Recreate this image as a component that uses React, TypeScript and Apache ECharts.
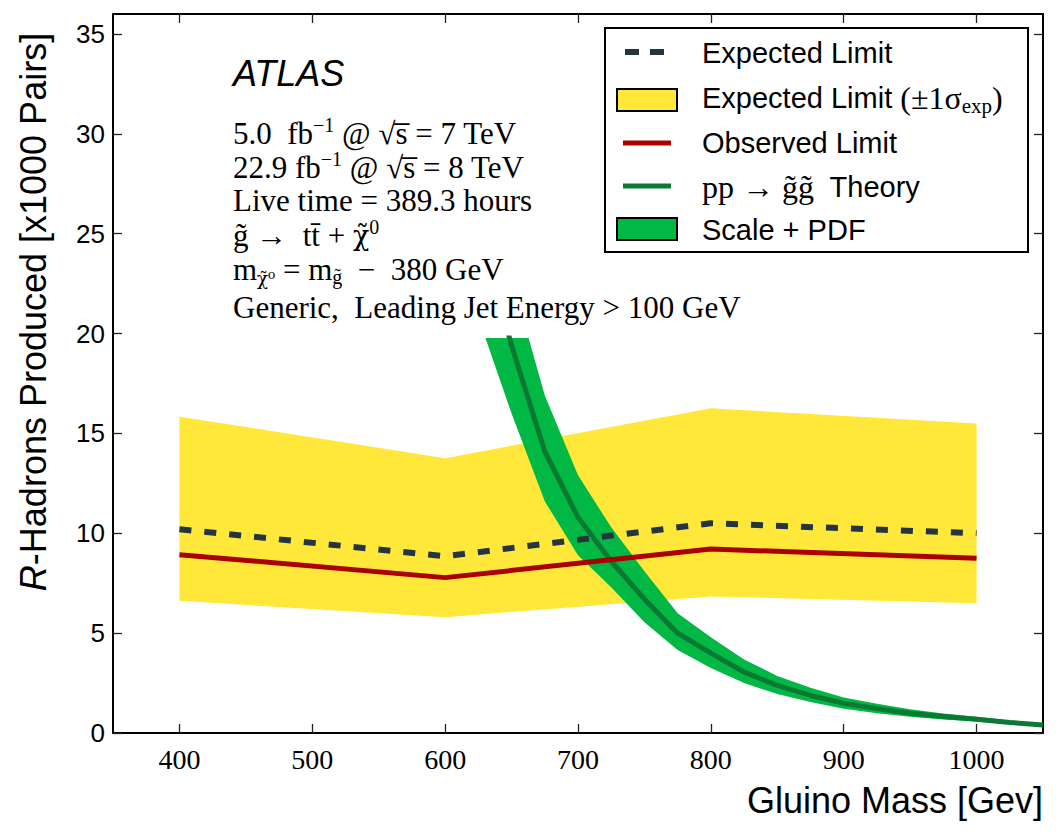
import React, { useEffect, useRef } from 'react';
import * as echarts from 'echarts';

// ---- data ----
const xTicks = [400, 500, 600, 700, 800, 900, 1000];
const yTicks = [0, 5, 10, 15, 20, 25, 30, 35];

const limitMass = [400, 600, 800, 1000];
const expectedLimit = [10.2, 8.85, 10.5, 10.0];
const observedLimit = [8.93, 7.78, 9.21, 8.75];
const expectedUpper = [15.84, 13.76, 16.26, 15.5];
const expectedLower = [6.62, 5.8, 6.84, 6.5];

const theoryMass = [625, 650, 675, 700, 725, 750, 775, 800, 825, 850, 875, 900, 925, 950, 975, 1000, 1025, 1050];
const theoryCentral = [25.5, 19.4, 14.1, 10.8, 8.6, 6.7, 5.0, 4.0, 3.05, 2.38, 1.88, 1.49, 1.22, 0.99, 0.83, 0.69, 0.53, 0.4];
const theoryUpper = [30.5, 22.8, 16.9, 12.9, 10.3, 8.1, 6.0, 4.8, 3.68, 2.86, 2.26, 1.78, 1.46, 1.19, 0.98, 0.81, 0.63, 0.48];
const theoryLower = [20.8, 16.0, 11.6, 8.9, 7.3, 5.55, 4.15, 3.25, 2.5, 1.95, 1.55, 1.22, 0.99, 0.81, 0.68, 0.57, 0.44, 0.33];

// ---- layout / style ----
const W = 1059;
const H = 834;
const GRID = { left: 113, right: 16, top: 14, bottom: 101 };
const Y_MAX = 36;
const THEORY_CLIP_TOP = 338;
const pxPerUnit = (H - GRID.top - GRID.bottom) / Y_MAX;
const theoryClipMax = (H - GRID.bottom - THEORY_CLIP_TOP) / pxPerUnit;

const SANS = "'Liberation Sans', Arial, Helvetica, sans-serif";
const SERIF = "'Liberation Serif', 'DejaVu Serif', serif";
const SERIF2 = "'DejaVu Serif', 'Liberation Serif', serif";

const YELLOW = '#FFE83A';
const GREEN_BAND = '#00B843';
const GREEN_LINE = '#0A7A33';
const RED = '#AA0000';
const DASH = '#253540';

function bandItem(xs: number[], up: number[], lo: number[], fill: string) {
  return (params: any, api: any) => {
    if (params.dataIndex !== 0) return null;
    const pts: number[][] = [];
    for (let i = 0; i < xs.length; i++) pts.push(api.coord([xs[i], up[i]]));
    for (let i = xs.length - 1; i >= 0; i--) pts.push(api.coord([xs[i], lo[i]]));
    return { type: 'polygon', shape: { points: pts }, style: { fill, stroke: null } };
  };
}

const serifRich = (size: number) => ({
  n: { fontFamily: SERIF, fontSize: size, lineHeight: 36, fill: '#000', color: '#000' },
  c: { fontFamily: SERIF2, fontSize: Math.round(size * 0.86), lineHeight: 36, fill: '#000', color: '#000' },
  sup: { fontFamily: SERIF, fontSize: Math.round(size * 0.66), lineHeight: 18, verticalAlign: 'top', fill: '#000', color: '#000' },
  sub: { fontFamily: SERIF, fontSize: Math.round(size * 0.66), lineHeight: 16, verticalAlign: 'bottom', fill: '#000', color: '#000' },
  subc: { fontFamily: SERIF2, fontSize: Math.round(size * 0.58), lineHeight: 16, verticalAlign: 'bottom', fill: '#000', color: '#000' },
  s: { fontFamily: SANS, fontSize: 29, lineHeight: 36, fill: '#000', color: '#000' },
});

function txt(x: number, y: number, text: string, extra: any = {}) {
  return {
    type: 'text',
    x,
    y,
    z: 100,
    style: {
      text,
      fill: '#000',
      textAlign: 'left',
      textVerticalAlign: 'middle',
      align: 'left',
      verticalAlign: 'middle',
      ...extra,
    },
  };
}

export default function App() {
  const ref = useRef<HTMLDivElement>(null);
  useEffect(() => {
    if (!ref.current) return;
    const chart = echarts.init(ref.current, null, { renderer: 'svg' });

    const axisLine = { show: true, onZero: false, lineStyle: { color: '#000', width: 2 } };
    const xTick = { show: true, inside: true, length: 9, customValues: xTicks, lineStyle: { color: '#222', width: 1.3 } };
    const yTick = { show: true, inside: true, length: 9, customValues: yTicks, lineStyle: { color: '#222', width: 1.3 } };

    const LX = 702;
    const legendRich = serifRich(32);
    const annRich = serifRich(31);

    const option: any = {
      animation: false,
      backgroundColor: '#fff',
      grid: [
        { left: GRID.left, right: GRID.right, top: GRID.top, bottom: GRID.bottom },
        { left: GRID.left, right: GRID.right, top: THEORY_CLIP_TOP, bottom: GRID.bottom },
      ],
      xAxis: [
        {
          gridIndex: 0, type: 'value', min: 350, max: 1050, position: 'bottom',
          axisLine, axisTick: xTick,
          axisLabel: {
            customValues: xTicks, fontFamily: SERIF, fontSize: 28, color: '#000', margin: 12,
            formatter: (v: number) => String(v),
          },
          splitLine: { show: false },
        },
        {
          gridIndex: 0, type: 'value', min: 350, max: 1050, position: 'top',
          axisLine, axisTick: xTick, axisLabel: { show: false }, splitLine: { show: false },
        },
        { gridIndex: 1, type: 'value', min: 350, max: 1050, show: false },
      ],
      yAxis: [
        {
          gridIndex: 0, type: 'value', min: 0, max: Y_MAX, position: 'left',
          axisLine, axisTick: yTick,
          axisLabel: { customValues: yTicks, fontFamily: SANS, fontSize: 26, color: '#000', margin: 8 },
          splitLine: { show: false },
        },
        {
          gridIndex: 0, type: 'value', min: 0, max: Y_MAX, position: 'right',
          axisLine, axisTick: yTick, axisLabel: { show: false }, splitLine: { show: false },
        },
        { gridIndex: 1, type: 'value', min: 0, max: theoryClipMax, show: false },
      ],
      series: [
        {
          name: 'Expected Limit (±1σ)', type: 'custom', xAxisIndex: 0, yAxisIndex: 0, z: 1, clip: true,
          data: [[limitMass[0], expectedUpper[0]]],
          renderItem: bandItem(limitMass, expectedUpper, expectedLower, YELLOW),
        },
        {
          name: 'Scale + PDF', type: 'custom', xAxisIndex: 2, yAxisIndex: 2, z: 2, clip: true,
          data: [[theoryMass[0], theoryUpper[0]]],
          renderItem: bandItem(theoryMass, theoryUpper, theoryLower, GREEN_BAND),
        },
        {
          name: 'pp → g̃g̃ Theory', type: 'line', xAxisIndex: 2, yAxisIndex: 2, z: 3, clip: true,
          symbol: 'none', lineStyle: { color: GREEN_LINE, width: 5 },
          data: theoryMass.map((m, i) => [m, theoryCentral[i]]),
        },
        {
          name: 'Expected Limit', type: 'line', xAxisIndex: 0, yAxisIndex: 0, z: 4,
          symbol: 'none', lineStyle: { color: DASH, width: 6, type: [12, 13], cap: 'butt' },
          data: limitMass.map((m, i) => [m, expectedLimit[i]]),
        },
        {
          name: 'Observed Limit', type: 'line', xAxisIndex: 0, yAxisIndex: 0, z: 5,
          symbol: 'none', lineStyle: { color: RED, width: 5 },
          data: limitMass.map((m, i) => [m, observedLimit[i]]),
        },
      ],
      graphic: [
        // legend box
        { type: 'rect', z: 90, shape: { x: 605, y: 28, width: 423, height: 224 }, style: { fill: '#fff', stroke: '#000', lineWidth: 2 } },
        { type: 'line', z: 100, shape: { x1: 625, y1: 52, x2: 664, y2: 52 }, style: { stroke: DASH, lineWidth: 6, lineDash: [14, 11] } },
        { type: 'rect', z: 100, shape: { x: 617, y: 89, width: 60, height: 22 }, style: { fill: YELLOW, stroke: '#000', lineWidth: 2 } },
        { type: 'line', z: 100, shape: { x1: 623, y1: 143, x2: 671, y2: 143 }, style: { stroke: RED, lineWidth: 5 } },
        { type: 'line', z: 100, shape: { x1: 623, y1: 186, x2: 671, y2: 186 }, style: { stroke: GREEN_LINE, lineWidth: 5 } },
        { type: 'rect', z: 100, shape: { x: 617, y: 218, width: 60, height: 22 }, style: { fill: GREEN_BAND, stroke: '#000', lineWidth: 2 } },
        txt(LX, 53, 'Expected Limit', { fontFamily: SANS, fontSize: 29 }),
        txt(LX, 98, '{s|Expected Limit }{n|(±1σ}{sub|exp}{n|)}', { rich: legendRich }),
        txt(LX, 143, 'Observed Limit', { fontFamily: SANS, fontSize: 29 }),
        txt(LX, 187, '{n|pp → g̃g̃}{s|  Theory}', { rich: legendRich }),
        txt(LX, 230, 'Scale + PDF', { fontFamily: SANS, fontSize: 29 }),
        // annotations
        txt(233, 73, 'ATLAS', { fontFamily: SANS, fontSize: 36, fontStyle: 'italic' }),
        txt(233, 133, '{n|5.0  fb}{sup|−1}{n| @ √s̅ = 7 TeV}', { rich: annRich }),
        txt(233, 167, '{n|22.9 fb}{sup|−1}{n| @ √s̅ = 8 TeV}', { rich: annRich }),
        txt(233, 200, '{n|Live time = 389.3 hours}', { rich: annRich }),
        txt(233, 235, '{n|g̃ →  tt̄ + }{c|χ̃}{sup|0}', { rich: annRich }),
        txt(233, 269, '{n|m}{subc|χ̃⁰}{n| = m}{sub|g̃}{n|  −  380 GeV}', { rich: annRich }),
        txt(233, 307, '{n|Generic,  Leading Jet Energy > 100 GeV}', { rich: annRich }),
        // axis titles
        txt(1043, 800, 'Gluino Mass [Gev]', { fontFamily: SANS, fontSize: 36, textAlign: 'right', align: 'right' }),
        {
          type: 'text', x: 33, y: 312, rotation: Math.PI / 2, z: 100,
          style: {
            text: '{i|R}{n|-Hadrons Produced [x1000 Pairs]}',
            textAlign: 'center', align: 'center', textVerticalAlign: 'middle', verticalAlign: 'middle',
            rich: {
              i: { fontFamily: SANS, fontSize: 36, fontStyle: 'italic', fill: '#000', color: '#000' },
              n: { fontFamily: SANS, fontSize: 36, fill: '#000', color: '#000' },
            },
          },
        },
      ],
    };
    chart.setOption(option);
    return () => chart.dispose();
  }, []);
  return (
    <div
      ref={ref}
      style={{ position: 'absolute', left: 0, top: 0, width: W, height: H, background: '#fff' }}
    />
  );
}
